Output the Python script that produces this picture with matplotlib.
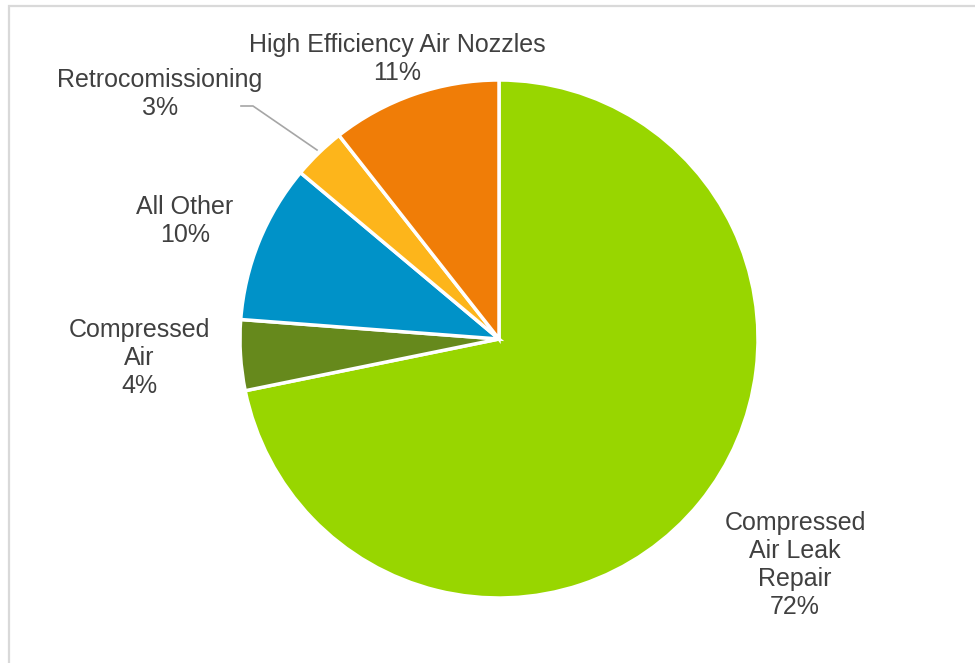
import matplotlib.pyplot as plt
import matplotlib.patches as mpatches

plt.rcParams['font.family'] = ['Liberation Sans', 'DejaVu Sans']

labels = ['Compressed\nAir Leak\nRepair', 'Compressed\nAir', 'All Other',
          'Retrocomissioning', 'High Efficiency Air Nozzles']
values = [71.8, 4.4, 9.9, 3.3, 10.6]
colors = ['#98d600', '#66891c', '#0092c8', '#fdb51b', '#f07d07']

# label centres in pixel coords (x, y from top)
label_pos = [(795, 565), (139, 358), (185, 221), (160, 94), (397, 59)]

W, H = 975, 663
fig = plt.figure(figsize=(W / 100, H / 100), dpi=100)

# light gray frame
fig.add_artist(mpatches.Rectangle((9 / W, -0.05), 1.1, 1 - 6 / H + 0.05,
                                  transform=fig.transFigure, fill=False,
                                  edgecolor='#d9d9d9', linewidth=1.6))

cx, cy, r = 499, 339, 259
ax = fig.add_axes([(cx - r) / W, (H - cy - r) / H, 2 * r / W, 2 * r / H])
ax.pie(values, colors=colors, startangle=90, counterclock=False,
       radius=1.0, wedgeprops=dict(edgecolor='white', linewidth=2.5))
ax.set_xlim(-1, 1)
ax.set_ylim(-1, 1)
ax.set_aspect('equal')
ax.axis('off')

for lab, v, (px, py) in zip(labels, values, label_pos):
    fig.text(px / W, 1 - py / H, f'{lab}\n{v:.0f}%', ha='center', va='center',
             fontsize=18, color='#404040', linespacing=1.2)

# leader line for Retrocomissioning
lx = [241 / W, 253 / W, 317 / W]
ly = [1 - 106 / H, 1 - 106 / H, 1 - 150 / H]
fig.add_artist(plt.Line2D(lx, ly, transform=fig.transFigure,
                          color='#a6a6a6', linewidth=1.2))

fig.savefig('out.png', dpi=100)
